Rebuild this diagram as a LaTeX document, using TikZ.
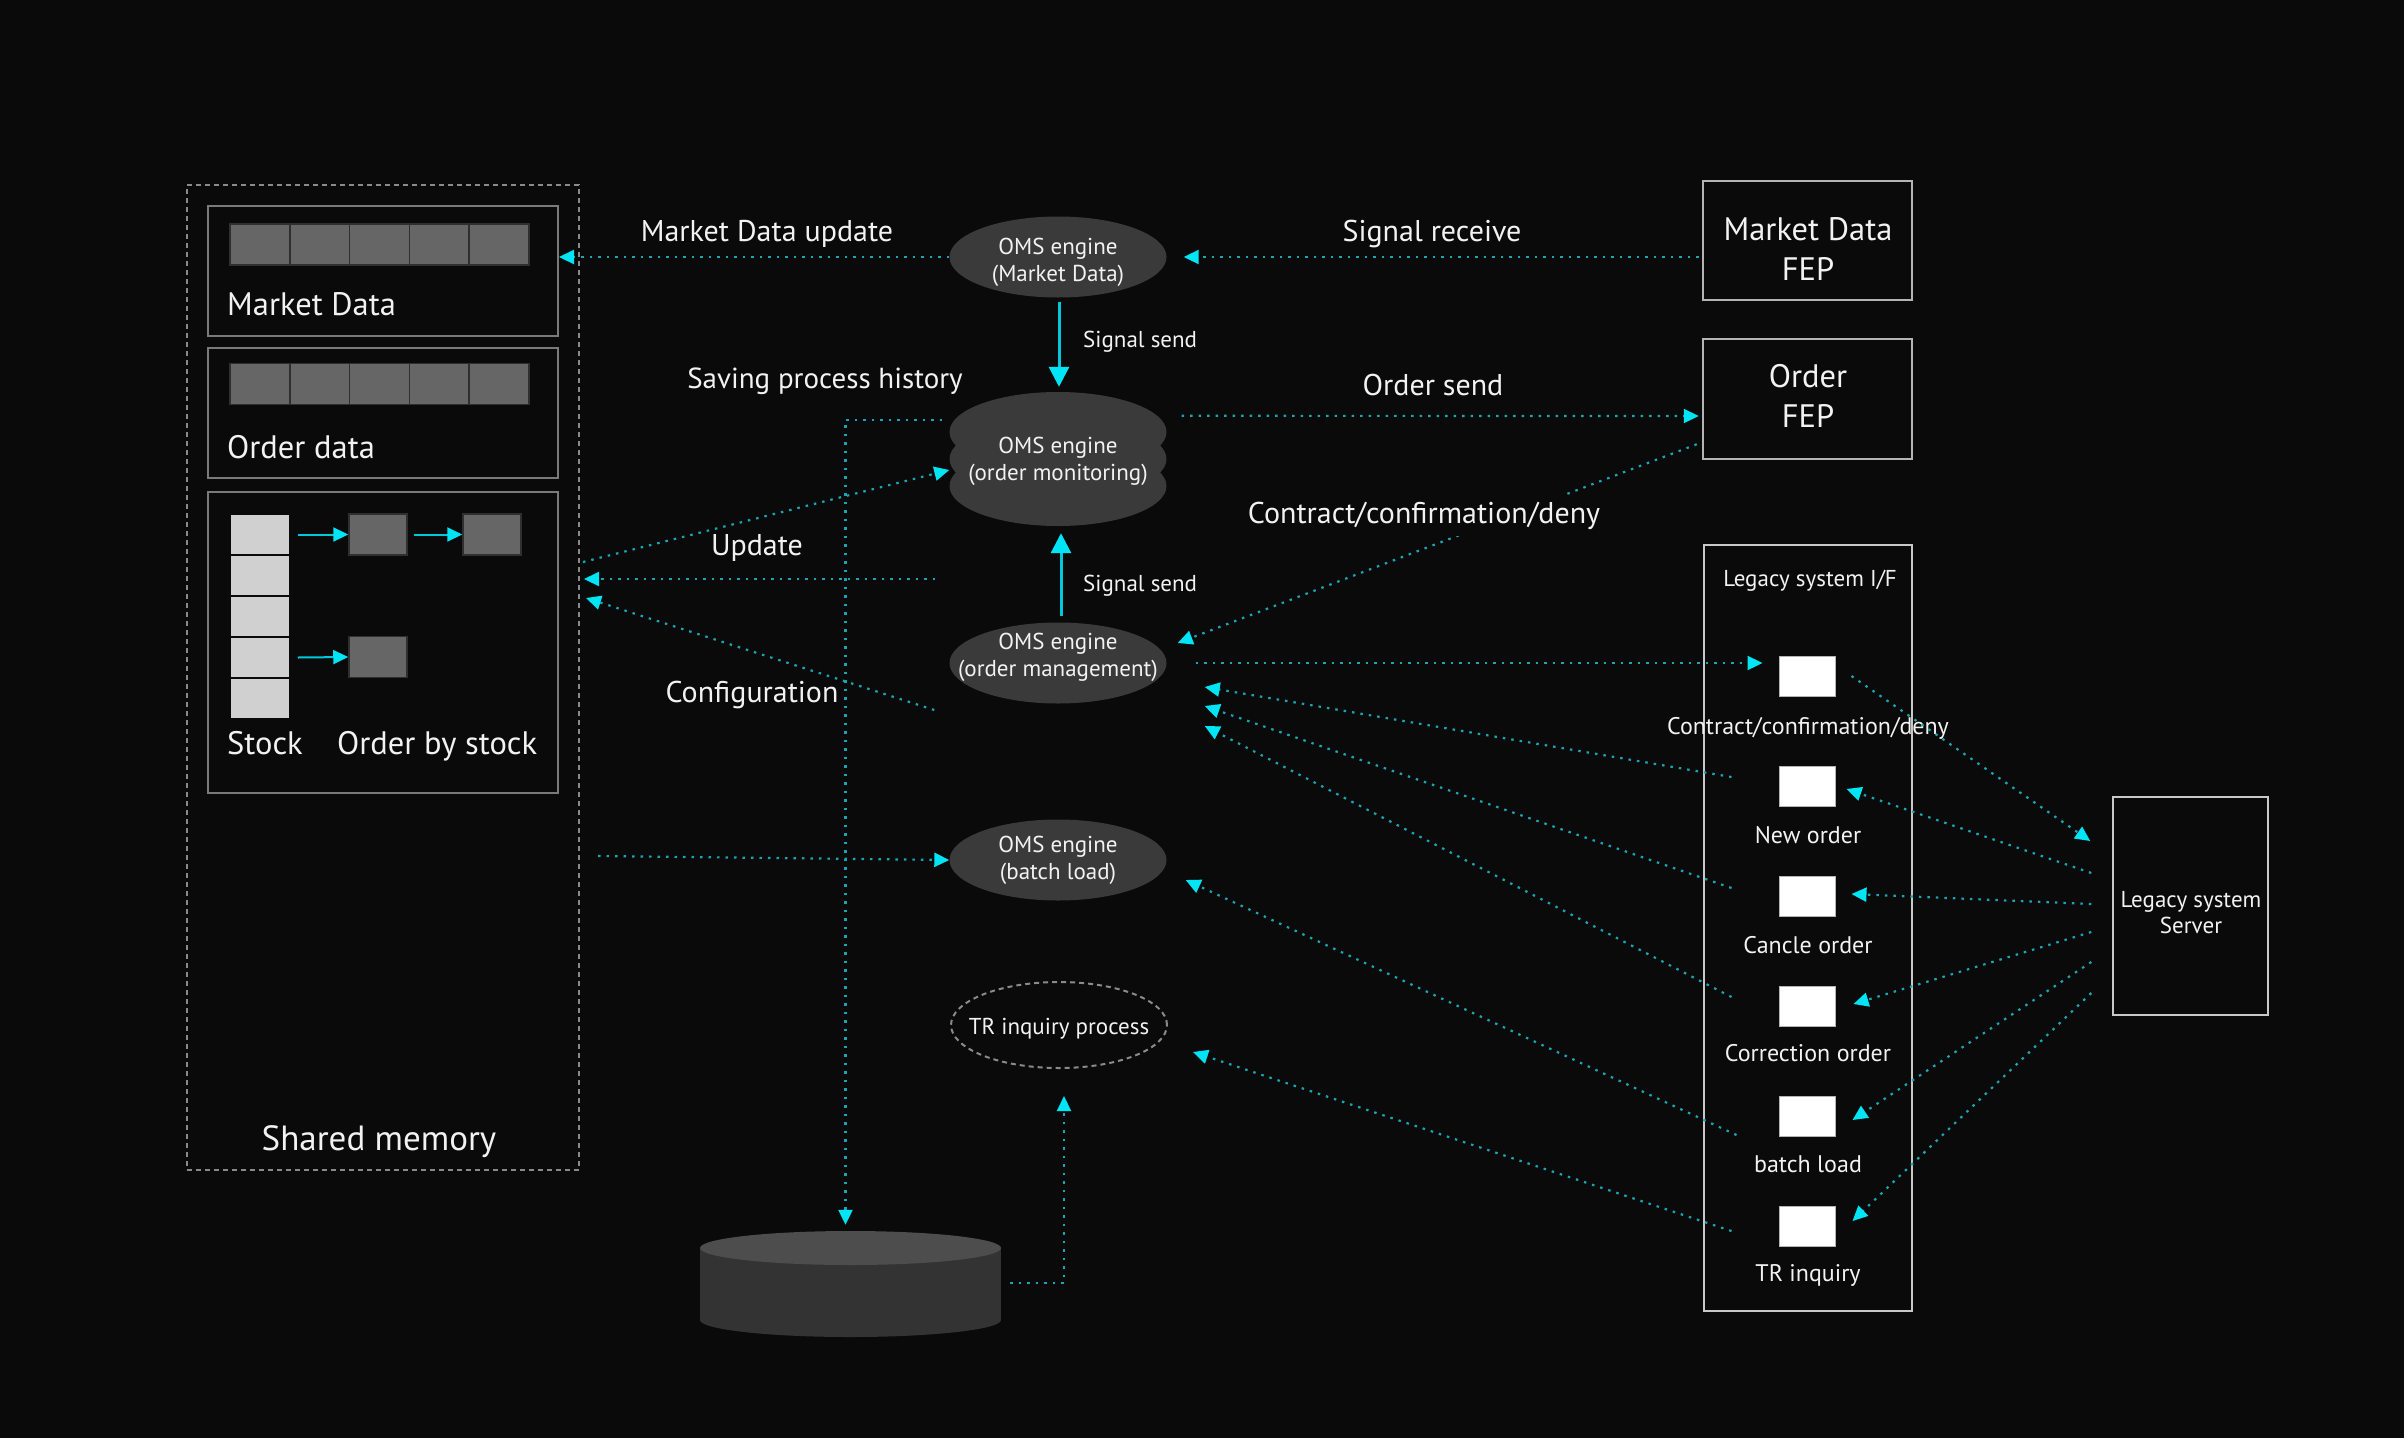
\documentclass[tikz,border=0pt]{standalone}
\usepackage{fontspec}
\setmainfont{PT Sans}
\usetikzlibrary{arrows.meta,calc,shapes.geometric}
\definecolor{bg}{HTML}{0A0A0A}
\definecolor{txt}{HTML}{F2F2F2}
\definecolor{flowc}{HTML}{1AA5B5}
\definecolor{tipc}{HTML}{00E5F5}
\definecolor{sigc}{HTML}{00C8DC}
\definecolor{engfill}{HTML}{3A3A3A}
\definecolor{cellc}{HTML}{666666}
\definecolor{stockc}{HTML}{D0D0D0}
\definecolor{memline}{HTML}{7A7A7A}
\definecolor{shmline}{HTML}{8A8A8A}
\definecolor{fepline}{HTML}{B4B4B4}
\definecolor{legline}{HTML}{C8C8C8}
\definecolor{dbtop}{HTML}{4D4D4D}
\definecolor{dbbody}{HTML}{333333}
\newcommand\fbig{\fontsize{30}{40}\selectfont}
\newcommand\fmem{\fontsize{32.5}{40}\selectfont}
\newcommand\fshm{\fontsize{35}{40}\selectfont}
\newcommand\fsmall{\fontsize{23}{27}\selectfont}
\newcommand\flegsq{\fontsize{24}{27}\selectfont}
\begin{document}
\begin{tikzpicture}[x=1pt,y=-1pt,
  every node/.style={text=txt, inner sep=0pt},
  flow/.style={draw=flowc, line width=2.2pt, dash pattern=on 2.5pt off 6pt,
    -{Triangle[length=15pt,width=14pt,color=tipc]}},
  sig/.style={draw=sigc, line width=3pt, -{Triangle[length=20pt,width=20pt,color=tipc]}},
  minarr/.style={draw=sigc, line width=2pt, -{Triangle[length=15pt,width=14pt,color=tipc]}},
  shmbox/.style={draw=shmline, line width=2pt, dash pattern=on 5pt off 4pt},
  membox/.style={draw=memline, line width=2pt},
  cell/.style={fill=cellc, draw=bg!60!cellc, line width=1.5pt, minimum width=59.8pt, minimum height=41pt},
  stcell/.style={fill=stockc, draw=bg, line width=1.5pt, minimum width=60pt, minimum height=41pt},
  engine/.style={ellipse, fill=engfill, minimum width=217pt, minimum height=81pt},
  trnode/.style={ellipse, draw=shmline, line width=2pt, dash pattern=on 5pt off 4pt, minimum width=216pt, minimum height=86pt},
  fepbox/.style={draw=fepline, line width=2.5pt},
  legbox/.style={draw=legline, line width=1.5pt},
  sqbox/.style={fill=white, draw=fepline, line width=1pt, minimum width=56pt, minimum height=40pt},
  big/.style={font=\fbig, align=center},
  mem/.style={font=\fmem, align=center},
  small/.style={font=\fsmall, align=center},
  legsq/.style={font=\flegsq, align=center}]
\fill[bg] (0,0) rectangle (2404,1438);
\useasboundingbox (0,0) rectangle (2404,1438);

% ---------- Shared memory ----------
\node[shmbox, minimum width=392pt, minimum height=985pt] (shm) at (383,677.5) {};
\node[membox, minimum width=350pt, minimum height=130pt] (mdbox) at (383,271) {};
\node[membox, minimum width=350pt, minimum height=130pt] (odbox) at (383,413) {};
\node[membox, minimum width=350pt, minimum height=301pt] (stbox) at (383,642.5) {};
\foreach \i in {0,...,4} {
  \node[cell] (mdc\i) at (259.9+\i*59.8,244.5) {};
  \node[cell] (odc\i) at (259.9+\i*59.8,384) {};
  \node[stcell] (stk\i) at (260,534.5+\i*41) {};
}
\node[cell, minimum width=58pt] (ob1) at (378,534.5) {};
\node[cell, minimum width=58pt] (ob2) at (492,534.5) {};
\node[cell, minimum width=58pt] (ob3) at (378,657) {};
\draw[minarr] ($(stk0.east)+(7,0)$) -- (ob1.west);
\draw[minarr] ($(ob1.east)+(6,0)$) -- (ob2.west);
\draw[minarr] ($(stk3.east)+(7,0)$) -- (ob3.west);
\node[mem, anchor=base west] (lmd) at (227,315) {Market Data};
\node[mem, anchor=base west] (lod) at (227,458) {Order data};
\node[mem, anchor=base west] (lst) at (227,754) {Stock};
\node[mem, anchor=base west] (lobs) at (337,754) {Order by stock};
\node[font=\fshm, anchor=base] (lshm) at (379,1150) {Shared memory};

% ---------- OMS engines ----------
\node[engine] (omsmd) at (1058,257) {};
\node[small] (tmd) at (1058,262) {OMS engine\\(Market Data)};
\fill[engfill] (1058,432) ellipse (108.5 and 40);
\fill[engfill] (1058,459) ellipse (108.5 and 40);
\fill[engfill] (1058,486) ellipse (108.5 and 40);
\node[minimum width=217pt, minimum height=134pt] (omsom) at (1058,459) {};
\node[small] (tom) at (1058,461) {OMS engine\\(order monitoring)};
\node[engine] (omsmgmt) at (1058,663) {};
\node[small] (tmg) at (1058,657) {OMS engine\\(order management)};
\node[engine] (omsbatch) at (1058,860) {};
\node[small] (tbl) at (1058,860) {OMS engine\\(batch load)};
\node[trnode] (tr) at (1059,1025) {};
\node[small] (ttr) at (1059,1029) {TR inquiry process};

% ---------- Database ----------
\node[minimum width=301pt, minimum height=106pt] (db) at (850.5,1284) {};
\fill[dbbody] (700,1248) rectangle (1001,1320);
\fill[dbbody] (850.5,1320) ellipse (150.5 and 17);
\fill[dbtop] (850.5,1248) ellipse (150.5 and 17);

% ---------- Right side ----------
\node[fepbox, minimum width=209pt, minimum height=119pt] (mdfep) at (1807.5,240.5) {};
\node[mem] (tmdfep) at (1808,249) {Market Data\\FEP};
\node[fepbox, minimum width=209pt, minimum height=120pt] (ofep) at (1807.5,399) {};
\node[mem] (tofep) at (1808,396) {Order\\FEP};
\node[legbox, minimum width=208pt, minimum height=766pt] (legif) at (1808,928) {};
\node[small, anchor=base] (tlegif) at (1810,586) {Legacy system I/F};
\node[legbox, minimum width=155pt, minimum height=218pt] (server) at (2190.5,906) {};
\node[small, font=\fontsize{23}{26}\selectfont] (tserver) at (2191,913) {Legacy system\\Server};
\node[sqbox] (sq1) at (1807,676) {};
\node[sqbox] (sq2) at (1807,786) {};
\node[sqbox] (sq3) at (1807,896) {};
\node[sqbox] (sq4) at (1807,1006) {};
\node[sqbox] (sq5) at (1807,1116) {};
\node[sqbox] (sq6) at (1807,1226) {};
\node[legsq, anchor=base] (tsq1) at (1808,734) {Contract/confirmation/deny};
\node[legsq, anchor=base] (tsq2) at (1808,843) {New order};
\node[legsq, anchor=base] (tsq3) at (1808,953) {Cancle order};
\node[legsq, anchor=base] (tsq4) at (1808,1061) {Correction order};
\node[legsq, anchor=base] (tsq5) at (1808,1172) {batch load};
\node[legsq, anchor=base] (tsq6) at (1808,1281) {TR inquiry};

% ---------- Connectors ----------
\draw[flow] (omsmd.west) -- (omsmd.west -| mdbox.east);
\draw[flow] ($(omsmd.east -| mdfep.west)+(-3,0)$) -- ($(omsmd.east)+(17,0)$);
\draw[sig] ($(omsmd.south)+(1,4)$) -- ($(omsom.north)+(1,-5)$);
\draw[sig] ($(omsmgmt.north)+(3,-6)$) -- ($(omsom.south)+(3,7)$);
\draw[flow] ($(omsom.north east)+(15,24)$) -- ($(ofep.west)+(-3,17)$);
\draw[flow] ($(ofep.south west)+(-5,-16)$) -- ($(omsmgmt.east)+(11,-20)$);
\draw[flow] ($(omsom.north west)+(-7,28)$) -| ($(db.north)+(-5,-6)$);
\draw[flow] ($(db.east)+(9,-1)$) -| ($(tr.south)+(5,27)$);
\draw[flow] ($(shm.east)+(3,-115.5)$) -- ($(omsom.west)+(0,11)$);
\coordinate (upd) at (935,579);
\draw[flow] (upd) -- ($(upd -| shm.east)+(4,0)$);
\draw[flow] ($(omsmgmt.west)+(-15,47)$) -- ($(shm.east)+(6,-79.5)$);
\draw[flow] ($(shm.east)+(18,178.5)$) -- (omsbatch.west);
\draw[flow] ($(omsmgmt.east)+(29,0)$) -- ($(sq1.west)+(-16,-13)$);
\draw[flow] ($(sq2.west)+(-47,-9)$) -- ($(omsmgmt.east)+(38,24)$);
\draw[flow] ($(sq3.west)+(-47,-8)$) -- ($(omsmgmt.east)+(38,43)$);
\draw[flow] ($(sq4.west)+(-47,-9)$) -- ($(omsmgmt.east)+(38,63)$);
\draw[flow] ($(sq5.west)+(-42,19)$) -- ($(omsbatch.east)+(19,20)$);
\draw[flow] ($(sq6.west)+(-47,5)$) -- ($(tr.east)+(25,27)$);
\draw[flow] ($(sq1.east)+(16,0)$) -- ($(server.west)+(-22,-65)$);
\draw[flow] ($(server.west)+(-21,-33)$) -- ($(sq2.east)+(11,3)$);
\draw[flow] ($(server.west)+(-21,-2)$) -- ($(sq3.east)+(16,-2)$);
\draw[flow] ($(server.west)+(-21,26)$) -- ($(sq4.east)+(18,-2)$);
\draw[flow] ($(server.west)+(-21,56)$) -- ($(sq5.east)+(17,4)$);
\draw[flow] ($(server.west)+(-21,87)$) -- ($(sq6.east)+(17,-5)$);

% ---------- Labels ----------
\node[big, anchor=base] (lmdu) at (767,241) {Market Data update};
\node[big, anchor=base] (lsr) at (1432,241) {Signal receive};
\node[small, anchor=base west] (lss1) at (1083,347) {Signal send};
\node[small, anchor=base west] (lss2) at (1083,591) {Signal send};
\node[big, anchor=base, font=\fontsize{29}{36}\selectfont] (lsph) at (825,388) {Saving process history};
\node[big, anchor=base] (los) at (1433,395) {Order send};
\node[big, anchor=base, fill=bg, inner sep=7pt] (lccd) at (1424,523) {Contract/confirmation/deny};
\node[big, anchor=base] (lupd) at (757,555) {Update};
\node[big, anchor=base] (lcfg) at (752,702) {Configuration};
\end{tikzpicture}
\end{document}
